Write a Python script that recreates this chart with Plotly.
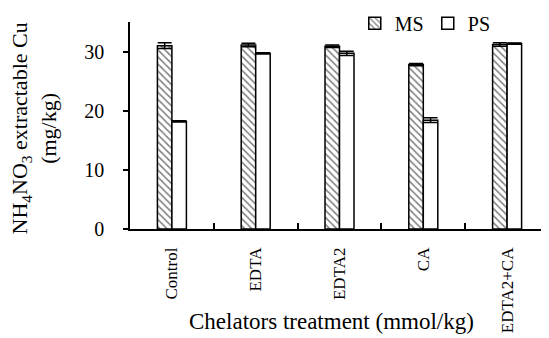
import plotly.graph_objects as go

categories = ["Control", "EDTA", "EDTA2", "CA", "EDTA2+CA"]
ms_values = [31.0, 31.1, 30.9, 27.8, 31.2]
ms_errors = [0.5, 0.3, 0.2, 0.2, 0.3]
ps_values = [18.2, 29.7, 29.7, 18.4, 31.35]
ps_errors = [0.1, 0.1, 0.35, 0.4, 0.1]
y_ticks = [0, 10, 20, 30]

FONT = "Liberation Serif"

fig = go.Figure()
fig.add_trace(go.Bar(
    name="MS", x=categories, y=ms_values,
    marker=dict(color="white", line=dict(color="black", width=1.5),
                pattern=dict(shape="\\", fgcolor="black", bgcolor="white",
                             size=5, solidity=0.3)),
    error_y=dict(type="data", array=ms_errors, visible=True,
                 color="black", thickness=1.5, width=7),
))
fig.add_trace(go.Bar(
    name="PS", x=categories, y=ps_values,
    marker=dict(color="white", line=dict(color="black", width=1.5)),
    error_y=dict(type="data", array=ps_errors, visible=True,
                 color="black", thickness=1.5, width=7),
))

# the page body has an 8px margin, so the figure is sized/offset to compensate
fig.update_layout(
    width=541, height=330,
    margin=dict(l=122, r=0, t=14, b=109, autoexpand=False),
    paper_bgcolor="white", plot_bgcolor="white",
    barmode="group", bargap=0.654, bargroupgap=0,
    font=dict(family=FONT, color="black", size=18),
    showlegend=True,
    legend=dict(orientation="h", xref="container", yref="container",
                x=0.641, y=0.954, xanchor="left", yanchor="middle",
                font=dict(size=20, family=FONT), itemwidth=30, entrywidth=28,
                bgcolor="rgba(0,0,0,0)", traceorder="normal"),
    xaxis=dict(
        showline=True, linecolor="black", linewidth=1.5,
        ticks="inside", ticklen=6, tickcolor="black", tickwidth=1.5,
        tickson="boundaries", tickangle=-90,
        tickfont=dict(size=17, family=FONT),
        ticklabelstandoff=10, automargin=False,
        showgrid=False, zeroline=False,
    ),
    yaxis=dict(
        range=[0, 35], tickvals=y_ticks,
        showline=True, linecolor="black", linewidth=1.5,
        ticks="outside", ticklen=5, tickcolor="black", tickwidth=1.5,
        tickfont=dict(size=20, family=FONT),
        ticklabelstandoff=15, automargin=False,
        showgrid=False, zeroline=False,
    ),
    annotations=[
        dict(text="Chelators treatment (mmol/kg)", xref="paper", yref="paper",
             x=0.482, y=-0.449, xanchor="center", yanchor="middle", showarrow=False,
             font=dict(size=23, family=FONT, color="black")),
        dict(text="NH<sub>4</sub>NO<sub>3</sub> extractable Cu<br>(mg/kg)",
             xref="paper", yref="paper", x=-0.228, y=0.488,
             xanchor="center", yanchor="middle", showarrow=False, textangle=-90,
             font=dict(size=22, family=FONT, color="black")),
    ],
)

fig.write_html("out.html")
